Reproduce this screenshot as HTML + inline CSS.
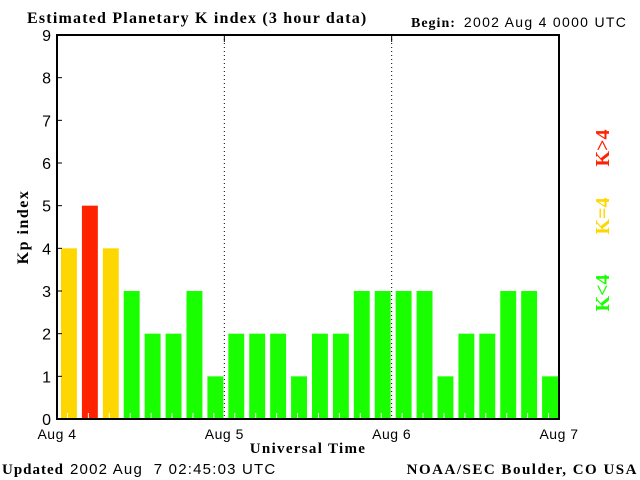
<!DOCTYPE html>
<html><head><meta charset="utf-8"><style>
html,body{margin:0;padding:0;background:#fff;width:640px;height:480px;overflow:hidden}
svg{display:block}
.serif{font-family:"Liberation Serif",serif;font-weight:bold}
.sans{font-family:"Liberation Sans",sans-serif}
</style></head><body>
<svg id="chart" width="640" height="480" xmlns="http://www.w3.org/2000/svg">
<text x="27" y="23" class="serif" font-size="16" letter-spacing="1.2">Estimated Planetary K index (3 hour data)</text>
<text x="411" y="27" font-size="14"><tspan class="serif" letter-spacing="1">Begin:</tspan><tspan class="sans" dx="8" letter-spacing="1.3">2002 Aug 4 0000 UTC</tspan></text>
<text x="28" y="227" class="serif" font-size="16" letter-spacing="1.5" transform="rotate(-90 28 227)" text-anchor="middle">Kp index</text>
<text x="308" y="453" class="serif" font-size="15" letter-spacing="1.3" text-anchor="middle">Universal Time</text>
<text x="2" y="474" font-size="15"><tspan class="serif" letter-spacing="1">Updated</tspan><tspan class="sans" dx="6" letter-spacing="1.2" xml:space="preserve">2002 Aug  7 02:45:03 UTC</tspan></text>
<text x="638" y="474" class="serif" font-size="15" letter-spacing="1.5" text-anchor="end">NOAA/SEC Boulder, CO USA</text>
<g class="serif" font-size="20">
<text x="609" y="293" transform="rotate(-90 609 293)" text-anchor="middle" fill="#1aff00">K&lt;4</text>
<text x="609" y="216" transform="rotate(-90 609 216)" text-anchor="middle" fill="#ffd700">K=4</text>
<text x="609" y="148" transform="rotate(-90 609 148)" text-anchor="middle" fill="#ff2200">K&gt;4</text>
</g>
<g id="plot"></g>
</svg>
<script>
const kpValues=[4,5,4,3,2,2,3,1,2,2,2,1,2,2,3,3,3,3,1,2,2,3,3,1];
const dayLabels=["Aug 4","Aug 5","Aug 6","Aug 7"];
const yTicks=[0,1,2,3,4,5,6,7,8,9];
const NS="http://www.w3.org/2000/svg";
const L=57,R=559,T=35,B=419,YMAX=9;
const g=document.getElementById('plot');
function xs(i){return L+(R-L)*i/kpValues.length;}
function ys(v){return B-(B-T)*v/YMAX;}
function mk(t,a){const e=document.createElementNS(NS,t);for(const k in a)e.setAttribute(k,a[k]);g.appendChild(e);return e;}
const pitch=(R-L)/kpValues.length;
kpValues.forEach((v,i)=>{
  const col=v>4?"#ff2200":(v===4?"#ffd700":"#1aff00");
  const r=mk('rect',{x:xs(i)+4,y:ys(v),width:pitch-5,height:B-ys(v),fill:col});
  
  
  const t=mk('line',{x1:xs(i)+pitch/2,x2:xs(i)+pitch/2,y1:B-6,y2:B,stroke:"#fff","stroke-width":1});
  
  
});
const frame=mk('rect',{x:L,y:T,width:R-L,height:B-T,fill:"none",stroke:"#000","stroke-width":2});


yTicks.forEach(v=>{
  const y=ys(v);
  const tl=mk('line',{x1:L,x2:L+5,y1:y,y2:y,stroke:"#000","stroke-width":1});
  
  
  const tx=mk('text',{x:L-6,y:y+6,"text-anchor":"end","font-size":"16","class":"sans"});
  tx.textContent=v;
  
  
});
const nd=dayLabels.length-1;
dayLabels.forEach((d,i)=>{
  const x=L+(R-L)*i/nd;
  if(i>0&&i<nd){
    const dl=mk('line',{x1:x,x2:x,y1:T,y2:B,stroke:"#000","stroke-width":1,"stroke-dasharray":"1,3"});
    
    
    const tk=mk('line',{x1:x,x2:x,y1:T,y2:T+7,stroke:"#000","stroke-width":1});
    
    
  }
  const tx=mk('text',{x:x,y:439,"text-anchor":"middle","font-size":"14","letter-spacing":"0.5","class":"sans"});
  tx.textContent=d;
  
  
});
</script>
</body></html>
